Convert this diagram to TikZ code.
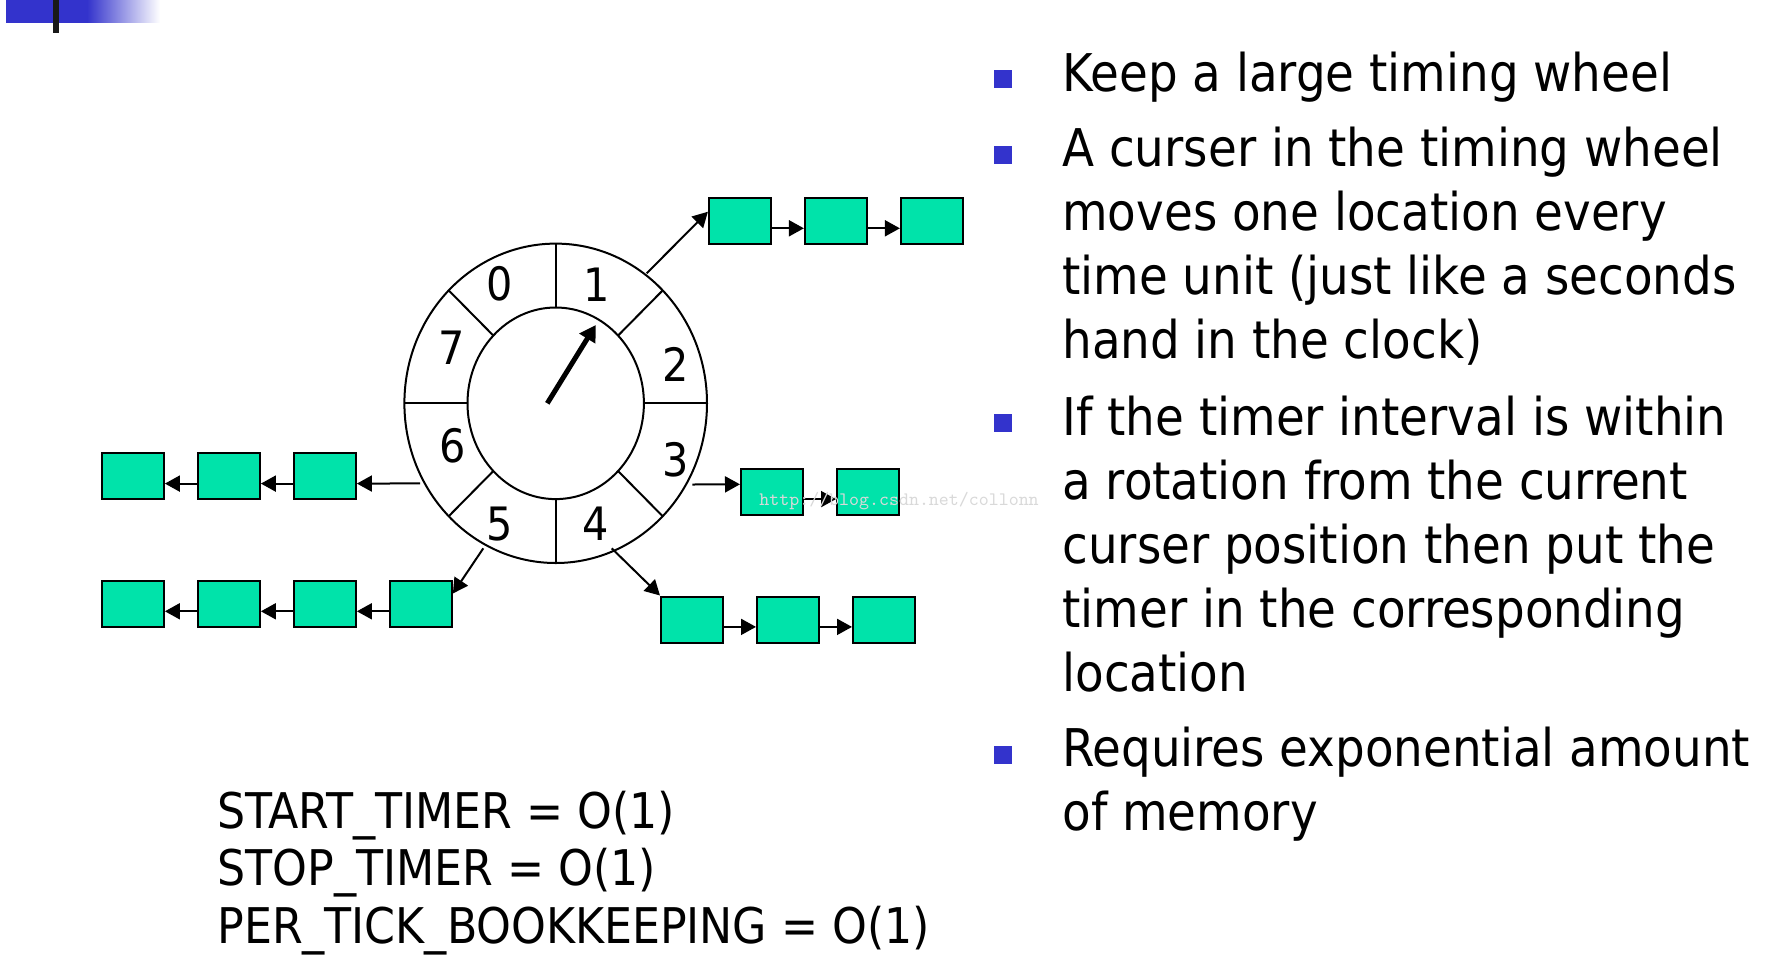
\documentclass[tikz,border=0pt]{standalone}
\usepackage{fontspec}
\setmainfont{DejaVu Sans Condensed}
\usetikzlibrary{arrows.meta,positioning}

\definecolor{slideblue}{RGB}{51,51,204}
\definecolor{cellgreen}{RGB}{0,227,170}

\tikzset{
  cell/.style={draw=black, line width=1pt, fill=cellgreen, minimum width=31pt, minimum height=23pt, inner sep=0pt},
  link/.style={line width=1pt, -{Triangle[length=7.5pt,width=8pt]}},
  slot/.style={inner sep=0pt, font=\fontsize{23}{28}\selectfont},
  bulletmark/.style={fill=slideblue, minimum size=9pt, inner sep=0pt},
  bullettext/.style={anchor=base west, inner sep=0pt, align=left, font=\fontsize{26}{32}\selectfont},
}

\begin{document}
\begin{tikzpicture}[x=0.5pt,y=0.5pt,yscale=-1,xscale=1,node distance=16pt]
\useasboundingbox (0,0) rectangle (1779,976);
\fill[white] (0,0) rectangle (1779,976);

% slide corner mark
\fill[slideblue] (6,0) rectangle (87,22.7);
\shade[left color=slideblue, right color=white] (87,0) rectangle (160,22.7);
\fill[black!90] (53,0) rectangle (59,33);

% wheel
\draw[line width=1pt] (555.7,403.3) ellipse [x radius=151.3, y radius=159.7];
\draw[line width=1pt] (555.7,403.3) ellipse [x radius=88.2, y radius=95.8];
\foreach \a in {0,45,...,315}
  \draw[line width=1pt, shift={(555.7,403.3)}] (\a:88.2 and 95.8) -- (\a:151.3 and 159.7);

% slot numbers
\node[slot] (d0) at (500,283.3) {0};
\node[slot] (d1) at (597,285) {1};
\node[slot] (d2) at (675.7,364) {2};
\node[slot] (d3) at (675.3,460) {3};
\node[slot] (d4) at (595.7,524) {4};
\node[slot] (d5) at (500,524.3) {5};
\node[slot] (d6) at (453,445.7) {6};
\node[slot] (d7) at (451.7,347.3) {7};

% cursor
\coordinate (hub) at (547.3,403.3);
\coordinate (tip) at (595.7,325);
\draw[line width=2.5pt, -{Triangle[length=8pt,width=9pt]}] (hub) -- (tip);

% where the lists leave the wheel
\coordinate (w1) at (646.7,273.3);
\coordinate (w3) at (692.3,484.5);
\coordinate (w4) at (611.7,548.3);
\coordinate (w5) at (483.3,548.3);
\coordinate (w6) at (420,483.4);

% timer lists
\node[cell] (r1a) at (739.9,220.9) {};
\node[cell, right=of r1a] (r1b) {};
\node[cell, right=of r1b] (r1c) {};

\node[cell] (r3a) at (772,491.7) {};
\node[cell, right=of r3a] (r3b) {};

\node[cell] (r4a) at (692,619.5) {};
\node[cell, right=of r4a] (r4b) {};
\node[cell, right=of r4b] (r4c) {};

\node[cell] (r5d) at (420.9,603.9) {};
\node[cell, left=of r5d] (r5c) {};
\node[cell, left=of r5c] (r5b) {};
\node[cell, left=of r5b] (r5a) {};

\node[cell] (r6c) at (324.9,476.2) {};
\node[cell, left=of r6c] (r6b) {};
\node[cell, left=of r6b] (r6a) {};

\draw[link] (w1) -- (r1a.164);
\draw[link] (r1a.-13) -- (r1b.193);
\draw[link] (r1b.-13) -- (r1c.193);

\draw[link] (w3) -- (r3a.167);
\draw[link] (r3a.-13) -- (r3b.193);

\draw[link] (w4) -- (r4a.north west);
\draw[link] (r4a.-13) -- (r4b.193);
\draw[link] (r4b.-13) -- (r4c.193);

\draw[link] (w5) -- (r5d.18);
\draw[link] (r5d.193) -- (r5c.-13);
\draw[link] (r5c.193) -- (r5b.-13);
\draw[link] (r5b.193) -- (r5a.-13);

\draw[link] (w6) -- (r6c.-13);
\draw[link] (r6c.193) -- (r6b.-13);
\draw[link] (r6b.193) -- (r6a.-13);

% costs (a multi-line node sits on its last baseline)
\node[anchor=base west, inner sep=0pt, align=left, font=\fontsize{24.6}{28.75}\selectfont] (cost) at (217,943.3)
  {START\_TIMER = O(1)\\STOP\_TIMER = O(1)\\PER\_TICK\_BOOKKEEPING = O(1)};

% bullets
\node[bulletmark] (b1) at (1003,79.3) {};
\node[bullettext] (t1) at (1062,91) {Keep a large timing wheel};
\node[bulletmark] (b2) at (1003,155) {};
\node[bullettext] (t2) at (1062,358.7) {A curser in the timing wheel\\moves one location every\\time unit (just like a seconds\\hand in the clock)};
\node[bulletmark] (b3) at (1003,423.3) {};
\node[bullettext] (t3) at (1062,691) {If the timer interval is within\\a rotation from the current\\curser position then put the\\timer in the corresponding\\location};
\node[bulletmark] (b4) at (1003,755) {};
\node[bullettext] (t4) at (1062,830.7) {Requires exponential amount\\of memory};

% watermark
\node[anchor=base west, inner sep=0pt, text=black!15, font=\ttfamily\fontsize{9.5}{11}\selectfont] (mark) at (759,505) {http://blog.csdn.net/collonn};
\end{tikzpicture}
\end{document}
